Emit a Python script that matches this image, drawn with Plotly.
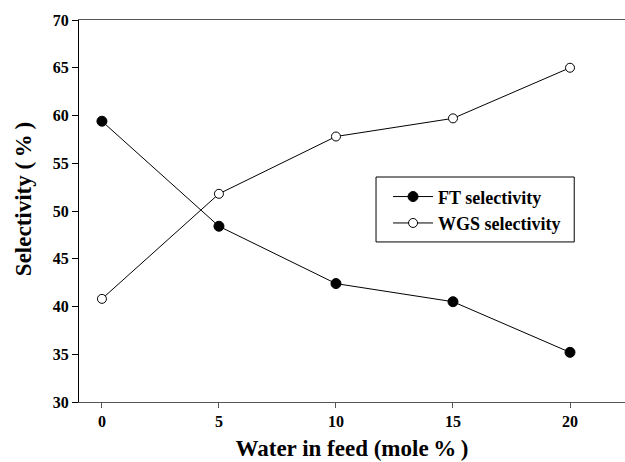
import plotly.graph_objects as go

water = [0, 5, 10, 15, 20]
ft_sel = [59.4, 48.4, 42.4, 40.5, 35.2]
wgs_sel = [40.8, 51.8, 57.8, 59.7, 65.0]
x_ticks = [0, 5, 10, 15, 20]
y_ticks = [30, 35, 40, 45, 50, 55, 60, 65, 70]

font_fam = "Liberation Serif"

fig = go.Figure()
fig.add_trace(go.Scatter(
    x=water, y=ft_sel, mode="lines+markers", name="FT selectivity",
    legendgroup="ft",
    line=dict(color="black", width=1),
    marker=dict(symbol="circle", size=10, color="black", line=dict(color="black", width=1)),
))
fig.add_trace(go.Scatter(
    x=water, y=wgs_sel, mode="lines+markers", name="WGS selectivity",
    legendgroup="wgs",
    line=dict(color="black", width=1),
    marker=dict(symbol="circle", size=9, color="white", line=dict(color="black", width=1)),
))

# legend frame
fig.add_shape(type="rect", xref="paper", yref="paper",
              x0=0.544, x1=0.907, y0=0.419, y1=0.589,
              line=dict(color="black", width=1), fillcolor="white", layer="below")

# y-axis title
fig.add_annotation(text="Selectivity (\u2009%\u2009)", textangle=-90,
                   xref="paper", yref="paper", x=-0.1026, y=0.531,
                   xanchor="center", yanchor="middle", showarrow=False,
                   font=dict(family=font_fam, size=23, weight="bold", color="black"))

fig.update_layout(
    width=625, height=462,
    margin=dict(l=79, r=0, t=20, b=60),
    paper_bgcolor="white", plot_bgcolor="white",
    font=dict(family=font_fam, size=16, color="black"),
    showlegend=True,
    legend=dict(
        x=0.566, y=0.503, xanchor="left", yanchor="middle",
        bgcolor="rgba(0,0,0,0)", borderwidth=0,
        font=dict(family=font_fam, size=18, color="black", weight="bold"),
        itemwidth=40, tracegroupgap=0,
    ),
    xaxis=dict(
        range=[-0.98, 22.35], tickvals=x_ticks,
        showgrid=False, zeroline=False,
        showline=True, linecolor="#555555", linewidth=1, mirror=True,
        ticks="outside", ticklen=5, tickcolor="#555555",
        tickfont=dict(family=font_fam, size=16, weight="bold"),
        title=dict(text="Water in feed (mole\u2009%\u2009)", standoff=10,
                   font=dict(family=font_fam, size=23, weight="bold")),
    ),
    yaxis=dict(
        range=[30, 70], tickvals=y_ticks,
        showgrid=False, zeroline=False,
        showline=True, linecolor="black", linewidth=1,
        ticks="outside", ticklen=6, tickcolor="black",
        tickfont=dict(family=font_fam, size=16, weight="bold"),
    ),
)

fig.write_html("out.html", config={"displayModeBar": False},
               post_script="document.body.style.margin='0';")
